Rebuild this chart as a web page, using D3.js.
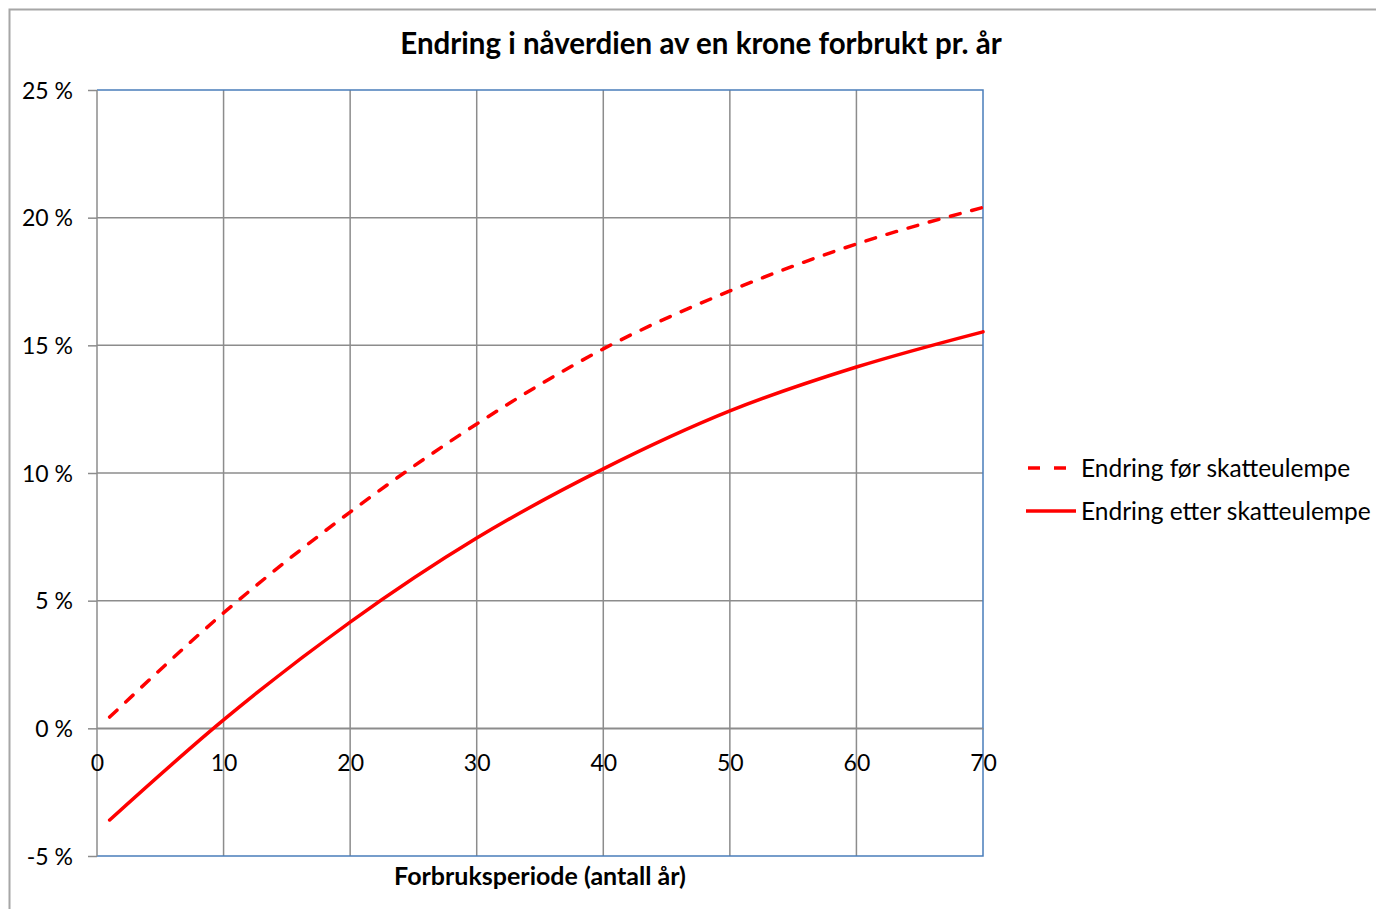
<!DOCTYPE html>
<html>
<head>
<meta charset="utf-8">
<script src="https://cdn.jsdelivr.net/npm/d3@7"></script>
<style>
  html, body { margin: 0; padding: 0; background: #fff; }
  svg { display: block; font-family: Lato, "Open Sans", sans-serif; }
</style>
</head>
<body>
<svg id="chart" width="1376" height="909"></svg>
<script>
// Years of consumption and the change in present value (percent)
const years = [1, 10, 20, 30, 40, 50, 60, 70];
const endringFor = [0.44, 4.52, 8.47, 11.92, 14.86, 17.13, 18.97, 20.40];
const endringEtter = [-3.59, 0.33, 4.16, 7.45, 10.16, 12.43, 14.15, 15.53];

const xTicks = [0, 10, 20, 30, 40, 50, 60, 70];
const yTicks = [-5, 0, 5, 10, 15, 20, 25];

const seriesNames = ["Endring før skatteulempe", "Endring etter skatteulempe"];
const title = "Endring i nåverdien av en krone forbrukt pr. år";
const xTitle = "Forbruksperiode (antall år)";

const svg = d3.select("#chart");
const red = "#ff0000";
const gridColor = "#8c8c8c";
const frameBlue = "#4a7ebb";

const plotL = 97, plotR = 983, plotT = 90, plotB = 856;
const x = d3.scaleLinear().domain([0, 70]).range([plotL, plotR]);
const y = d3.scaleLinear().domain([-5, 25]).range([plotB, plotT]);

// outer chart border
svg.append("rect")
  .attr("x", 9.5).attr("y", 9.5).attr("width", 1400).attr("height", 1000)
  .attr("fill", "none").attr("stroke", "#a6a6a6").attr("stroke-width", 2);

// title
svg.append("text")
  .attr("x", 701).attr("y", 54)
  .attr("text-anchor", "middle")
  .attr("font-weight", "bold").attr("font-size", 29.5)
  .attr("fill", "#000")
  .text(title);

// horizontal gridlines
svg.append("g")
  .selectAll("line").data(yTicks.filter(d => d !== 25 && d !== -5)).join("line")
  .attr("x1", plotL).attr("x2", plotR)
  .attr("y1", d => y(d)).attr("y2", d => y(d))
  .attr("stroke", gridColor).attr("stroke-width", 1.5);

// vertical gridlines
svg.append("g")
  .selectAll("line").data(xTicks.filter(d => d !== 0 && d !== 70)).join("line")
  .attr("x1", d => x(d)).attr("x2", d => x(d))
  .attr("y1", plotT).attr("y2", plotB)
  .attr("stroke", gridColor).attr("stroke-width", 1.5);

// plot frame (top, right, bottom in blue)
svg.append("path")
  .attr("d", `M${plotL},${plotT}H${plotR}V${plotB}H${plotL}`)
  .attr("fill", "none").attr("stroke", frameBlue).attr("stroke-width", 1.5);

// y axis
const yAxis = d3.axisLeft(y).tickValues(yTicks).tickSize(9).tickPadding(15)
  .tickFormat(d => d + " %");
const gy = svg.append("g").attr("transform", `translate(${plotL},0)`).call(yAxis);
gy.select(".domain").attr("stroke", gridColor).attr("stroke-width", 1.5)
  .attr("d", `M0,${plotT}V${plotB}`);
gy.selectAll(".tick line").attr("stroke", gridColor).attr("stroke-width", 1.5);
gy.selectAll(".tick text").attr("font-size", 23).attr("fill", "#000")
  .attr("font-family", "Lato, sans-serif").attr("dy", "0.35em");

// x axis sits on the 0 % line, labels below it
const xAxis = d3.axisBottom(x).tickValues(xTicks).tickSize(0).tickPadding(24);
const gx = svg.append("g").attr("transform", `translate(0,${y(0)})`).call(xAxis);
gx.select(".domain").attr("stroke", gridColor).attr("stroke-width", 1.5);
gx.selectAll(".tick text").attr("font-size", 23).attr("fill", "#000")
  .attr("font-family", "Lato, sans-serif").attr("dy", "0.35em").attr("y", 35);

// x axis title
svg.append("text")
  .attr("x", 540).attr("y", 885)
  .attr("text-anchor", "middle")
  .attr("font-weight", "bold").attr("font-size", 25)
  .text(xTitle);

// series lines
const line = d3.line().curve(d3.curveMonotoneX)
  .x(d => x(d[0])).y(d => y(d[1]));

svg.append("path")
  .datum(years.map((yr, i) => [yr, endringFor[i]]))
  .attr("d", line)
  .attr("fill", "none").attr("stroke", red).attr("stroke-width", 3.5)
  .attr("stroke-linecap", "round")
  .attr("stroke-dasharray", "10,12");

svg.append("path")
  .datum(years.map((yr, i) => [yr, endringEtter[i]]))
  .attr("d", line)
  .attr("fill", "none").attr("stroke", red).attr("stroke-width", 3.5)
  .attr("stroke-linecap", "round");

// legend
const legend = svg.append("g");
legend.append("line")
  .attr("x1", 1028).attr("x2", 1068).attr("y1", 468).attr("y2", 468)
  .attr("stroke", red).attr("stroke-width", 3.5)
  .attr("stroke-dasharray", "12,14");
legend.append("line")
  .attr("x1", 1026).attr("x2", 1076).attr("y1", 511).attr("y2", 511)
  .attr("stroke", red).attr("stroke-width", 3.5);
legend.selectAll("text").data(seriesNames).join("text")
  .attr("x", 1081).attr("y", (d, i) => 468 + i * 43)
  .attr("dy", "0.35em").attr("font-size", 24.5).attr("fill", "#000")
  .text(d => d);
</script>
</body>
</html>
